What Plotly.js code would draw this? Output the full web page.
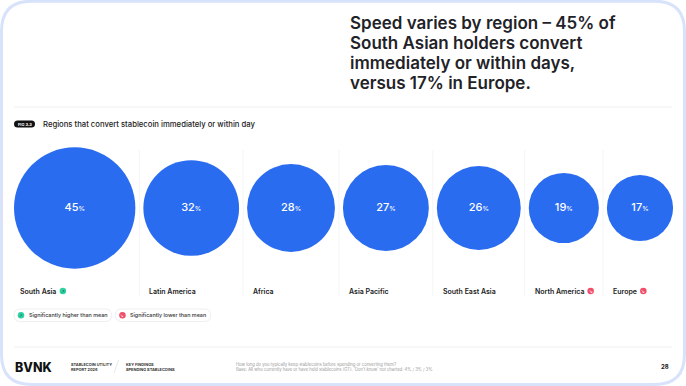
<!DOCTYPE html>
<html><head><meta charset="utf-8">
<script src="https://cdn.plot.ly/plotly-3.0.1.min.js"></script>
<style>html,body{margin:0;padding:0;background:#fff;}#chart{width:686px;height:386px;}</style>
</head><body><div id="chart"></div>
<script>
// ---------- data ----------
const regions = ["South Asia","Latin America","Africa","Asia Pacific","South East Asia","North America","Europe"];
const shares = [45,32,28,27,26,19,17];
const significance = ["higher","none","none","none","none","lower","lower"];
const legendLabels = ["Significantly higher than mean","Significantly lower than mean"];
const titleLines = ["Speed varies by region \u2013 45% of","South Asian holders convert","immediately or within days,","versus 17% in Europe."];
const figLabel = "FIG 3.3";
const subtitle = "Regions that convert stablecoin immediately or within day";
const reportLines = ["STABLECOIN UTILITY","REPORT 2026"];
const sectionLines = ["KEY FINDINGS","SPENDING STABLECOINS"];
const questionLines = ["How long do you typically keep stablecoins before spending or converting them?",
  "Base: All who currently have or have held stablecoins (GT). \u2018Don\u2019t know\u2019 not charted: 4% / 3% / 3%"];
const brand = "BVNK";
const pageNo = "28";

// ---------- styling / layout ----------
const W = 686, H = 386;
const BLUE = "#2a6cf0", GREEN = "#2fd0a2", RED = "#f04d68", INK = "#1f2328";
const FONT = "Inter, 'Noto Sans', sans-serif";
const diam = v => 32.7 + 1.97 * v;        // value -> circle diameter (px)
const startX = 14, gap = 4, cy = 208, labelY = 291;

const cv = document.createElement("canvas").getContext("2d");
function tw(txt, size, weight){ cv.font = weight + " " + size + "px Inter"; return cv.measureText(txt).width; }

let cursor = startX; const cx = [], left = [], seps = [];
shares.forEach((v, i) => {
  if (i > 0) { cursor += gap; seps.push(cursor); cursor += gap; }
  left.push(cursor); cx.push(cursor + diam(v) / 2); cursor += diam(v);
});

function rr(x0, y0, x1, y1, r){
  return `M${x0+r},${y0} L${x1-r},${y0} Q${x1},${y0} ${x1},${y0+r} L${x1},${y1-r} Q${x1},${y1} ${x1-r},${y1} L${x0+r},${y1} Q${x0},${y1} ${x0},${y1-r} L${x0},${y0+r} Q${x0},${y0} ${x0+r},${y0} Z`;
}

const shapes = [], annotations = [];
const ann = (o) => annotations.push(Object.assign({xref:"x", yref:"y", showarrow:false, xanchor:"left", yanchor:"middle", align:"left"}, o));

// frame
shapes.push({type:"path", xref:"x", yref:"y", path: rr(1.5, 1.2, 684.5, 384.5, 30), line:{color:"#d8e3fb", width:3}, fillcolor:"rgba(0,0,0,0)", layer:"above"});
// rules
shapes.push({type:"line", xref:"x", yref:"y", x0:14, x1:672, y0:107, y1:107, line:{color:"#f0f0f0", width:1}, layer:"below"});
shapes.push({type:"line", xref:"x", yref:"y", x0:14, x1:672, y0:347, y1:347, line:{color:"#efefef", width:1}, layer:"below"});
// column separators
seps.forEach(s => shapes.push({type:"line", xref:"x", yref:"y", x0:s, x1:s, y0:150, y1:296, line:{color:"#f5f5f5", width:1}, layer:"below"}));

// title
titleLines.forEach((t, i) => ann({x:348, y:22.5 + i*20.3, text:t, font:{family:FONT, size:17, weight:600, color:INK}}));

// fig label
shapes.push({type:"path", xref:"x", yref:"y", path: rr(14, 120.5, 35, 127.5, 3.5), fillcolor:"#111", line:{width:0}, layer:"below"});
ann({x:24.5, y:124, xanchor:"center", text:figLabel, font:{family:FONT, size:4, weight:700, color:"#fff"}});
ann({x:40.5, y:124, text:subtitle, font:{family:FONT, size:7.7, weight:500, color:"#222"}});

// region labels + significance icons
const iconX = [], iconY = [], iconC = [];
regions.forEach((r, i) => {
  const lx = left[i] + 4;
  ann({x:lx, y:labelY, text:r, font:{family:FONT, size:7, weight:600, color:"#222"}});
  if (significance[i] !== "none") {
    const ix = lx + tw(r, 7, 600) + 8.5;
    iconX.push(ix); iconY.push(labelY); iconC.push(significance[i] === "higher" ? GREEN : RED);
    ann({x:ix, y:labelY, xanchor:"center", text: significance[i] === "higher" ? "\u2197" : "\u2198",
         font:{family:"DejaVu Sans", size:4.5, color: significance[i] === "higher" ? "#0b5e47" : "#fff"}});
  }
});

// legend pills
let lx0 = 14;
legendLabels.forEach((t, i) => {
  const w = tw(t, 5.4, 500);
  const x1 = lx0 + 13 + w + 6;
  shapes.push({type:"path", xref:"x", yref:"y", path: rr(lx0, 309, x1, 321.5, 6.2), fillcolor:"#fff", line:{color:"#efefef", width:1}, layer:"below"});
  iconX.push(lx0 + 7); iconY.push(315.3); iconC.push(i === 0 ? GREEN : RED);
  ann({x:lx0 + 7, y:315.3, xanchor:"center", text: i === 0 ? "\u2197" : "\u2198", font:{family:"DejaVu Sans", size:4.2, color: i === 0 ? "#0b5e47" : "#fff"}});
  ann({x:lx0 + 12.7, y:315.3, text:t, font:{family:FONT, size:5.4, weight:500, color:"#333"}});
  lx0 = x1 + 4;
});

// footer
ann({x:13, y:367, text:brand, font:{family:FONT, size:12.5, weight:800, color:"#111"}});
ann({x:69, y:366.5, text:reportLines.join("<br>"), font:{family:FONT, size:3.9, weight:700, color:"#333"}});
shapes.push({type:"line", xref:"x", yref:"y", x0:118.5, x1:114, y0:360, y1:373, line:{color:"#e2e2e2", width:0.8}});
ann({x:124, y:366.5, text:sectionLines.join("<br>"), font:{family:FONT, size:3.9, weight:700, color:"#333"}});
ann({x:234, y:366.5, text:questionLines.join("<br>"), font:{family:FONT, size:4.2, weight:400, color:"#9a9a9a"}});
ann({x:671, y:366.5, xanchor:"right", text:pageNo, font:{family:FONT, size:6, weight:700, color:"#222"}});

const traces = [
  {type:"scatter", mode:"markers+text", x:cx, y:shares.map(() => cy),
   marker:{size:shares.map(diam), color:BLUE, line:{width:0}, opacity:1},
   text:shares.map(v => v + "<span style='font-size:6.5px'>%</span>"),
   textposition:"middle center", textfont:{family:FONT, size:11, weight:500, color:"#fff"},
   hoverinfo:"skip", cliponaxis:false},
  {type:"scatter", mode:"markers", x:iconX, y:iconY,
   marker:{size:6.5, color:iconC, line:{width:0}}, hoverinfo:"skip", cliponaxis:false}
];

const layout = {
  width:W, height:H, margin:{l:0, r:0, t:0, b:0},
  paper_bgcolor:"#fff", plot_bgcolor:"#fff", showlegend:false, hovermode:false,
  xaxis:{range:[0, W], visible:false, fixedrange:true},
  yaxis:{range:[H, 0], visible:false, fixedrange:true},
  shapes, annotations
};
Plotly.newPlot("chart", traces, layout, {staticPlot:true, displayModeBar:false});
</script></body></html>
